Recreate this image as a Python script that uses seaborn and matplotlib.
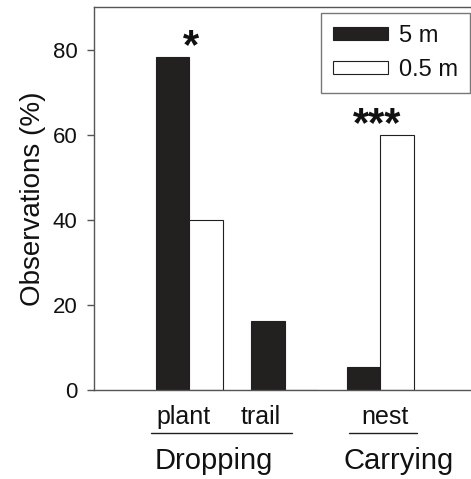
import matplotlib
matplotlib.use("Agg")
import matplotlib.pyplot as plt
import matplotlib.transforms as mtransforms
import seaborn as sns
import pandas as pd

categories = ["plant", "trail", "nest"]
series_names = ["5 m", "0.5 m"]
values_5m = [78.2, 16.3, 5.5]
values_05m = [40.0, 0.0, 60.0]
yticks = [0, 20, 40, 60, 80]

df = pd.DataFrame({
    "site": categories * 2,
    "pct": values_5m + values_05m,
    "distance": [series_names[0]] * 3 + [series_names[1]] * 3,
})

sns.set_style("ticks")
plt.rcParams["font.family"] = ["Liberation Sans", "DejaVu Sans"]
plt.rcParams["text.color"] = "#111111"
plt.rcParams["axes.labelcolor"] = "#111111"
plt.rcParams["ytick.labelcolor"] = "#111111"

fig = plt.figure(figsize=(4.71, 4.79), dpi=100)
ax = fig.add_axes([0.1996, 0.1858, 0.8004, 0.7996])

sns.barplot(data=df, x="site", y="pct", hue="distance", order=categories,
            hue_order=series_names,
            palette={"5 m": "#231f20", "0.5 m": "white"},
            edgecolor="#231f20", linewidth=0.8, width=0.7, ax=ax,
            errorbar=None)

ax.set_xlim(-1.0, 2.95)
ax.set_ylim(0, 90)
ax.set_yticks(yticks)
ax.tick_params(axis="y", labelsize=16, length=5, width=1, color="#555555",
               direction="out", pad=7)
ax.set_xticks([])
ax.set_xlabel("")
ax.set_ylabel("Observations (%)", fontsize=20, labelpad=5)
for s in ["left", "bottom", "top"]:
    ax.spines[s].set_color("#555555")
    ax.spines[s].set_linewidth(1)
ax.spines["right"].set_visible(False)

leg = ax.legend(loc="upper right", bbox_to_anchor=(0.997, 0.984), borderaxespad=0,
                fontsize=17, frameon=True, fancybox=False, handlelength=2.35,
                handleheight=0.45, handletextpad=0.45, borderpad=0.5, labelspacing=0.5)
leg.get_frame().set_edgecolor("#555555")
leg.get_frame().set_linewidth(1)

trans = mtransforms.blended_transform_factory(ax.transData, ax.transAxes)
# category labels
for x, lab in [(-0.06, "plant"), (0.75, "trail"), (2.05, "nest")]:
    ax.text(x, -0.089, lab, transform=trans, ha="center", va="baseline", fontsize=18)
# underlines
ax.plot([-0.40, 1.07], [-0.112, -0.112], transform=trans, color="#231f20", lw=1, clip_on=False)
ax.plot([1.675, 2.38], [-0.112, -0.112], transform=trans, color="#231f20", lw=1, clip_on=False)
# group labels
ax.text(0.26, -0.206, "Dropping", transform=trans, ha="center", va="baseline", fontsize=21)
ax.text(2.19, -0.206, "Carrying", transform=trans, ha="center", va="baseline", fontsize=21)

# significance
ax.text(0.02, 78.0, "*", ha="center", va="baseline", fontsize=30, fontweight="bold")
ax.text(1.97, 59.7, "***", ha="center", va="baseline", fontsize=30, fontweight="bold")

fig.savefig("out.png", dpi=100)
